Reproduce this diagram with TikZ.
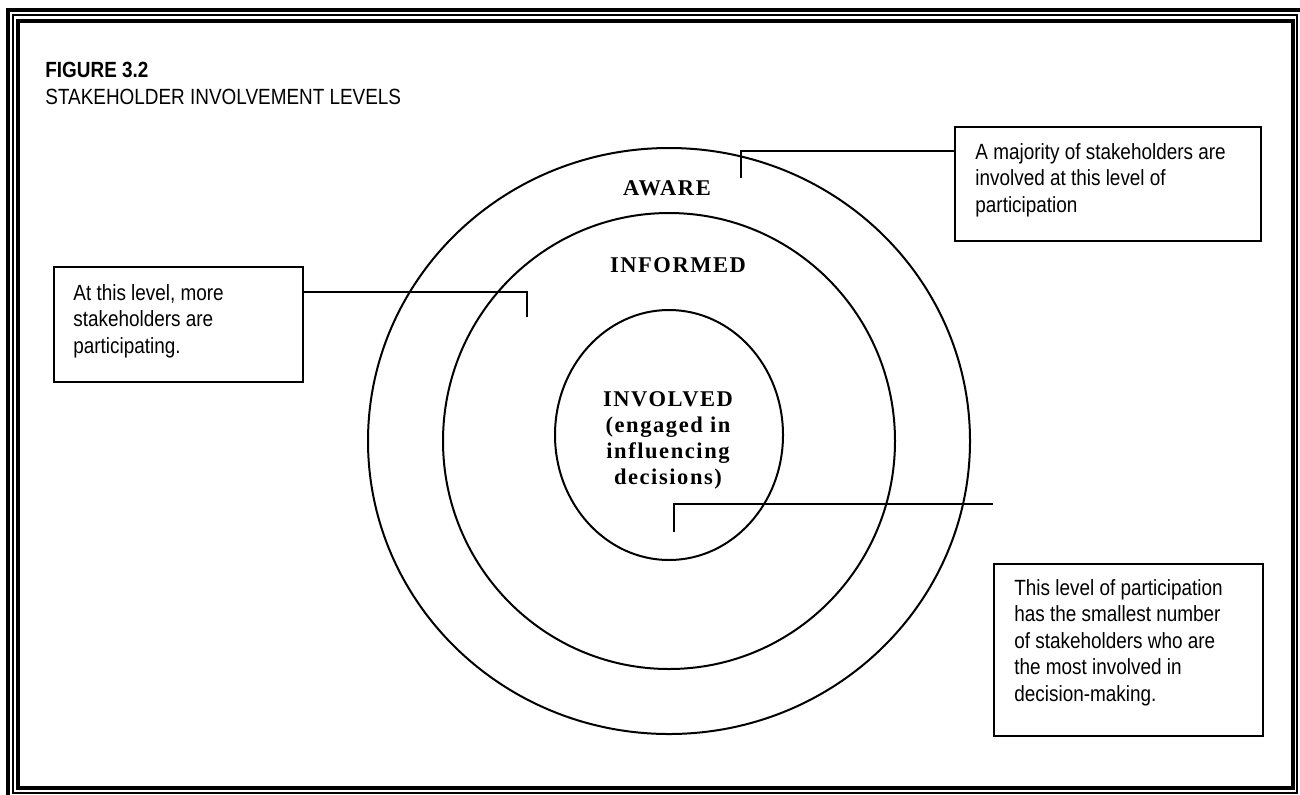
\documentclass[tikz,border=0pt]{standalone}
\usepackage{fontspec}
\setmainfont{Liberation Sans}[FakeStretch=0.86]
\newfontfamily\ringfont{Liberation Serif}[LetterSpace=7]
\usetikzlibrary{positioning}

\tikzset{
  ring/.style={draw, line width=1pt},
  ringlabel/.style={font=\ringfont\bfseries\fontsize{11.25}{13}\selectfont, align=center, inner sep=0pt},
  notebox/.style={draw, line width=1.1pt, anchor=north west, inner sep=0pt},
  notetext/.style={anchor=north west, align=left, inner sep=0pt,
    font=\fontsize{11}{13.25}\selectfont},
  leader/.style={line width=1.1pt},
}

\begin{document}
\begin{tikzpicture}[x=0.5pt, y=-0.5pt]
	\useasboundingbox (0,0) rectangle (1300,794);

	% frame
	\draw[line width=2pt] (8,10) rectangle (1302,798);
	\draw[line width=1pt] (13,15) rectangle (1297,793);
	\draw[line width=2pt] (18,21) rectangle (1293,788);

	% title
	\node[anchor=base west, inner sep=0pt, font=\bfseries\fontsize{11}{13}\selectfont] (fignum) at (45,77) {FIGURE 3.2};
	\node[anchor=base west, inner sep=0pt, font=\fontsize{11}{13}\selectfont] (figtitle) at (45,104) {STAKEHOLDER INVOLVEMENT LEVELS};

	% rings
	\draw[ring] (669,441) ellipse (301 and 293);
	\draw[ring] (669,441) ellipse (226 and 228);
	\draw[ring] (669,435) ellipse (114 and 125);

	\node[ringlabel, anchor=base] (aware) at (667,195) {AWARE};
	\node[ringlabel, anchor=base] (informed) at (678,272) {INFORMED};
	\node[ringlabel] (involved) at (668,440) {INVOLVED\\(engaged in\\influencing\\decisions)};

	% notes
	\node[notebox, minimum width=153pt, minimum height=57pt] (majority) at (954,126) {};
	\node[notetext] at ([shift={(21,17)}]majority.north west) {A majority of stakeholders are\\involved at this level of\\participation};

	\node[notebox, minimum width=124.5pt, minimum height=57.5pt] (morelevel) at (53,266) {};
	\node[notetext] at ([shift={(20,18)}]morelevel.north west) {At this level, more\\stakeholders are\\participating.};

	\node[notebox, minimum width=134.5pt, minimum height=86pt] (smallest) at (993,563) {};
	\node[notetext] at ([shift={(21,16)}]smallest.north west) {This level of participation\\has the smallest number\\of stakeholders who are\\the most involved in\\decision-making.};

	% leaders
	\coordinate (awaretip) at (741,178);
	\coordinate (informedtip) at (527,317);
	\coordinate (involvedtip) at (674,532);
	\draw[leader] (majority.west |- 0,151) -| (awaretip);
	\draw[leader] (morelevel.east |- 0,292) -| (informedtip);
	\draw[leader] (smallest.west |- 0,504) -| (involvedtip);
\end{tikzpicture}
\end{document}
